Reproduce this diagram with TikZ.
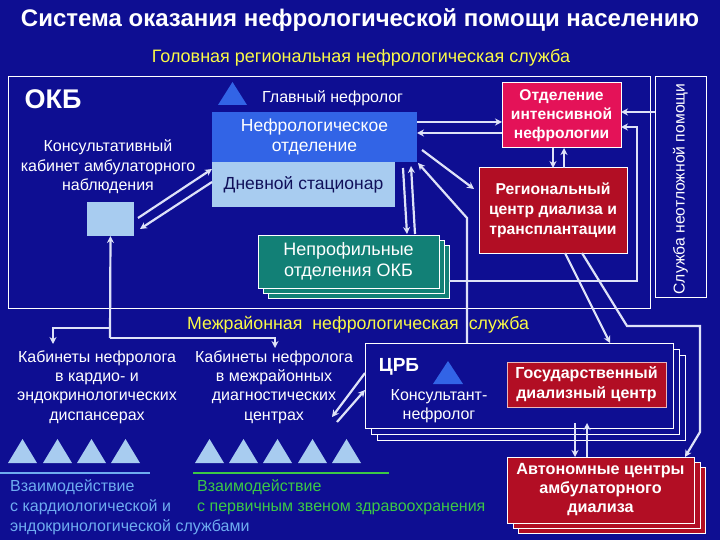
\documentclass[tikz,border=0pt]{standalone}
\usepackage{fontspec}
\setmainfont{Liberation Sans}
\usetikzlibrary{arrows.meta,calc}
\definecolor{bgc}{RGB}{14,14,146}
\definecolor{nefc}{RGB}{50,100,230}
\definecolor{lightc}{RGB}{168,204,240}
\definecolor{intc}{RGB}{228,18,88}
\definecolor{regc}{RGB}{178,14,36}
\definecolor{tealc}{RGB}{18,128,118}
\definecolor{yelc}{RGB}{250,250,70}
\definecolor{arrowc}{RGB}{222,226,248}
\definecolor{greenc}{RGB}{60,200,70}
\definecolor{ltxt}{RGB}{110,172,240}
\definecolor{navyt}{RGB}{16,16,90}
\tikzset{
  bx/.style={anchor=north west, inner sep=0pt, outer sep=0pt, draw=white, line width=1pt, align=center},
  arr/.style={draw=arrowc, line width=2.2pt, -{Stealth[length=7pt,width=7pt]}},
  ln/.style={draw=arrowc, line width=2.2pt},
  wt/.style={text=white, align=center, inner sep=0pt},
}
\begin{document}
\begin{tikzpicture}[x=1pt,y=-1pt]
\fill[bgc] (0,0) rectangle (720,540);
\useasboundingbox (0,0) rectangle (720,540);

% titles
\node[wt, font=\bfseries\fontsize{24}{28}\selectfont] (title) at (360,20) {Система оказания нефрологической помощи населению};
\node[text=yelc, inner sep=0pt, font=\fontsize{18}{21}\selectfont] (sub) at (361,58) {Головная региональная нефрологическая служба};

% big boxes
\node[bx, minimum width=642pt, minimum height=231pt] (okbbox) at (8,77) {};
\node[bx, minimum width=51pt, minimum height=220pt] (sl) at (655,77) {};
\node[wt, rotate=90, font=\fontsize{15.7}{18}\selectfont] (sltext) at ([yshift=-2pt]sl.center) {Служба неотложной помощи};

\node[wt, font=\bfseries\fontsize{27}{30}\selectfont] (okb) at (53,99) {ОКБ};
\node[wt, font=\fontsize{16}{19.5}\selectfont] (kons) at (108,167) {Консультативный\\кабинет амбулаторного\\наблюдения};
\node[bx, draw=none, fill=lightc, minimum width=47pt, minimum height=34pt] (sq) at (87,202) {};

% main nephrologist
\fill[nefc] (218,105) -- (247,105) -- (232.5,82) -- cycle;
\node[wt, anchor=west, font=\fontsize{16}{19}\selectfont] (glav) at (262,98) {Главный нефролог};

\node[bx, draw=none, fill=nefc, text=white, minimum width=205pt, minimum height=50pt, font=\fontsize{17.5}{20}\selectfont] (nef) at (212,112) {Нефрологическое\\отделение};
\node[bx, draw=none, fill=lightc, text=navyt, minimum width=183pt, minimum height=45pt, font=\fontsize{17.5}{20}\selectfont] (dnev) at (212,162) {Дневной стационар};

\node[bx, fill=intc, text=white, minimum width=119pt, minimum height=65pt, font=\bfseries\fontsize{15.6}{19}\selectfont] (int) at (502,83) {Отделение\\интенсивной\\нефрологии};
\node[bx, fill=regc, text=white, minimum width=148pt, minimum height=85pt, font=\bfseries\fontsize{15.7}{20}\selectfont] (reg) at (479,168) {Региональный\\центр диализа и\\трансплантации};

% non-profile departments (stacked)
\node[bx, fill=tealc, minimum width=181pt, minimum height=53pt] (nepr3) at (268,245) {};
\node[bx, fill=tealc, minimum width=181pt, minimum height=53pt] (nepr2) at (263,240) {};
\node[bx, fill=tealc, text=white, minimum width=181pt, minimum height=53pt, font=\fontsize{18}{21}\selectfont] (nepr) at (258,235) {Непрофильные\\отделения ОКБ};

% inter-district service
\node[text=yelc, inner sep=0pt, font=\fontsize{17.8}{20}\selectfont] (mezh) at (358,325) {Межрайонная\ \ нефрологическая\ \ служба};

\node[wt, font=\fontsize{16}{19.4}\selectfont] (kab1) at (97,387) {Кабинеты нефролога\\в кардио- и\\эндокринологических\\диспансерах};
\node[wt, font=\fontsize{16}{19.4}\selectfont] (kab2) at (274,387) {Кабинеты нефролога\\в межрайонных\\диагностических\\центрах};

% CRB (stacked)
\node[bx, fill=bgc, minimum width=308pt, minimum height=85pt] (crb3) at (377,355) {};
\node[bx, fill=bgc, minimum width=308pt, minimum height=85pt] (crb2) at (371,349) {};
\node[bx, fill=bgc, minimum width=308pt, minimum height=85pt] (crb) at (365,343) {};
\node[wt, font=\bfseries\fontsize{19}{22}\selectfont] (crbl) at (399,367) {ЦРБ};
\fill[nefc] (433,384) -- (463,384) -- (448,361) -- cycle;
\node[wt, font=\fontsize{16}{19}\selectfont] (konsnef) at (439,406) {Консультант-\\нефролог};
\node[bx, draw=white!70!regc, line width=0.8pt, fill=regc, text=white, minimum width=159pt, minimum height=45pt, font=\bfseries\fontsize{16}{20}\selectfont] (gos) at (507,362) {Государственный\\диализный центр};

% autonomous centres (stacked)
\node[bx, fill=regc, minimum width=187pt, minimum height=66pt] (avt3) at (518,467) {};
\node[bx, fill=regc, minimum width=187pt, minimum height=66pt] (avt2) at (513,462) {};
\node[bx, fill=regc, text=white, minimum width=187pt, minimum height=66pt, font=\bfseries\fontsize{16.2}{19}\selectfont] (avt) at (507,457) {Автономные центры\\амбулаторного\\диализа};

% triangles
\foreach \a in {8,43,77,111} \fill[lightc] (\a,463) -- (\a+29,463) -- (\a+14.5,439) -- cycle;
\foreach \a in {195,229,263,298,332} \fill[lightc] (\a,463) -- (\a+29,463) -- (\a+14.5,439) -- cycle;

% bottom lines and texts
\coordinate (bl1) at (0,473); \coordinate (bl2) at (150,473);
\coordinate (gl1) at (193,473); \coordinate (gl2) at (389,473);
\draw[ltxt, line width=2.5pt] (bl1) -- (bl2);
\draw[greenc, line width=2.5pt] (gl1) -- (gl2);
\node[text=ltxt, anchor=north west, inner sep=0pt, align=left, font=\fontsize{16}{20}\selectfont] (vz1) at (10,479) {Взаимодействие\\с кардиологической и\\эндокринологической службами};
\node[text=greenc, anchor=north west, inner sep=0pt, align=left, font=\fontsize{16}{20}\selectfont] (vz2) at (197,479) {Взаимодействие\\с первичным звеном здравоохранения};

% ---- connectors ----
\draw[arr] (138,218) -- (dnev.west |- 0,169);
\draw[arr] (dnev.west |- 0,182) -- (140,229);
\coordinate (j1) at (110,338);
\coordinate (j2) at (110,328);
\draw[arr] (j1) -- (sq.south);
\draw[arr] (j2) -- (53,328) -- (53,344);
\draw[arr] (j1) -- (275,338) -- (275,348);

\draw[arr] (nef.east |- 0,122) -- (int.west |- 0,122);
\draw[arr] (int.west |- 0,133) -- (nef.east |- 0,133);
\draw[arr] (422,150) -- (474,189);
\draw[arr] (crb.north -| 467,0) -- (467,218) -- (418,163);
\draw[arr] (403,168) -- (407,234);
\draw[arr] (415,234) -- (411,166);
\draw[arr] (int.south -| 553,0) -- (reg.north -| 553,0);
\draw[arr] (reg.north -| 564,0) -- (int.south -| 564,0);
\draw[arr] (sl.west |- 0,112) -- (int.east |- 0,112);
\draw[arr] (nepr3.east |- 0,281) -- (637,281) -- (637,127) -- (int.east |- 0,127);
\draw[arr] (reg.south -| 565,0) -- (crb.north -| 610,0);
\draw[arr] (reg.south -| 582,0) -- (627,326) -- (700,326) -- (700,432) -- (avt.north -| 685,0);
\draw[arr] (crb.west |- 0,373) -- (332,417);
\draw[arr] (337,422) -- (crb.west |- 0,390);
\draw[arr] (575,423) -- (avt.north -| 575,0);
\draw[arr] (avt.north -| 587,0) -- (587,423);
\end{tikzpicture}
\end{document}
